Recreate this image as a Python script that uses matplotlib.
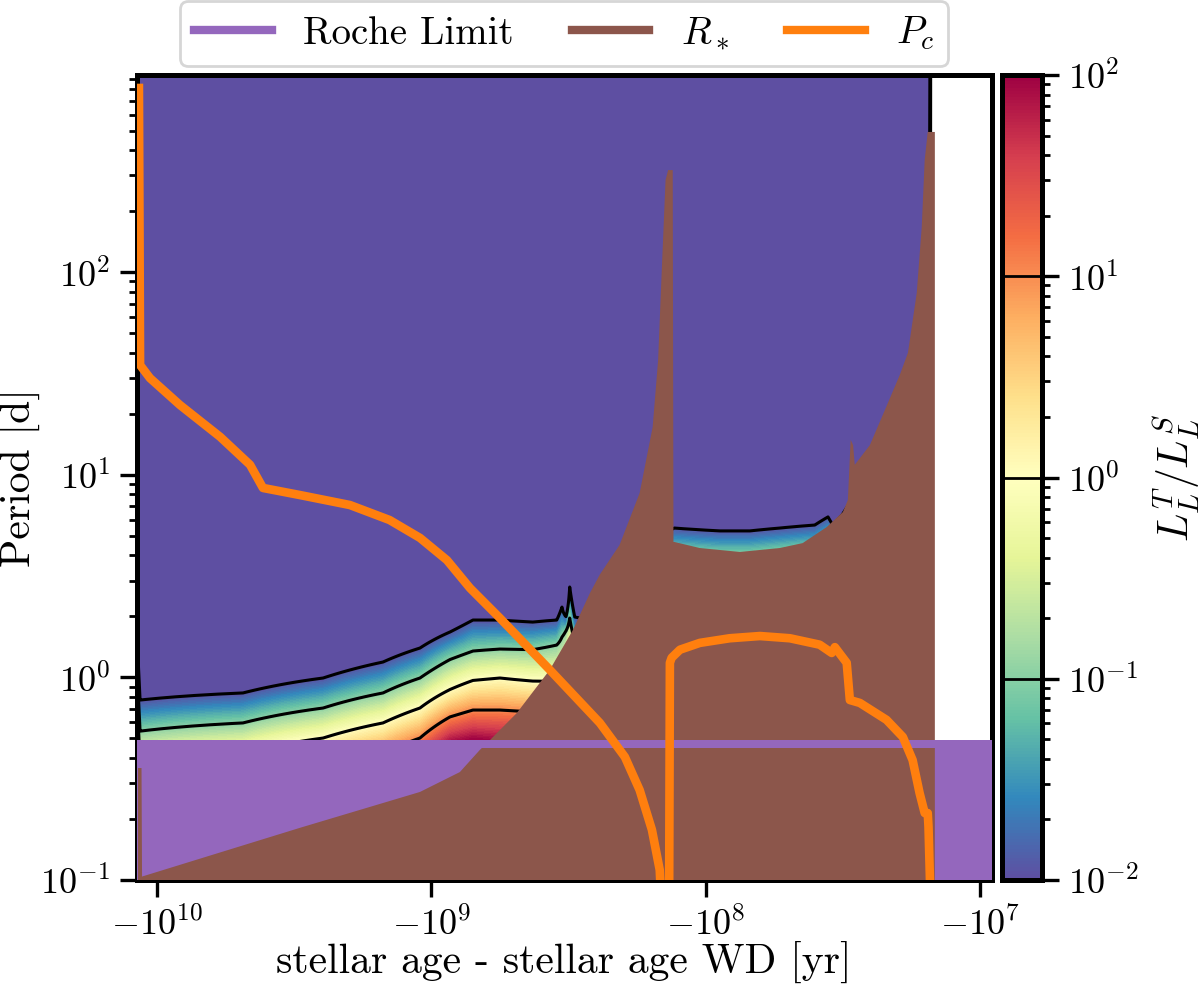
import numpy as np
import matplotlib
matplotlib.use('Agg')
import matplotlib.pyplot as plt
from matplotlib.colors import LogNorm, Normalize
from matplotlib.lines import Line2D
from matplotlib.ticker import NullLocator
import matplotlib.cm as cm

plt.rcParams.update({
    'font.family': 'serif',
    'font.serif': ['cmr10'],
    'mathtext.fontset': 'cm',
    'axes.formatter.use_mathtext': True,
    'axes.unicode_minus': False,
    'contour.negative_linestyle': 'solid',
})

# ---------------- data ----------------
# tidal-to-stellar luminosity ratio field: period (d) of the 0.01, 0.1, 1, 10 contours per age column
field_age = np.array([-1.178e10, -1.153e10, -4.86e9, -2.48e9, -1.50e9, -1.10e9, -8.55e8, -7.05e8,
                      -5.62e8, -4.27e8, -3.49e8, -3.34e8, -3.23e8, -3.13e8, -3.00e8, -2.87e8,
                      -2.43e8, -1.89e8, -1.47e8, -1.30e8, -8.87e7, -6.90e7, -5.37e7, -4.00e7,
                      -3.58e7, -3.44e7, -3.18e7, -2.52e7, -1.96e7, -1.54e7, -1.51e7])
field_p001 = np.array([1.413, 0.773, 0.838, 0.993, 1.191, 1.396, 1.675, 1.919, 1.919, 1.875, 1.919,
                       2.223, 1.995, 2.793, 1.986, 1.963, 2.630, 3.802, 5.012, 5.458, 5.284, 5.284,
                       5.458, 5.649, 6.194, 5.649, 6.339, 10.0, 19.95, 100.0, 3162.0])
field_p01 = np.array([1.000, 0.543, 0.596, 0.706, 0.838, 0.993, 1.225, 1.349, 1.380, 1.371, 1.445,
                      1.581, 1.698, 1.963, 1.479, 1.479, 1.905, 2.884, 3.802, 4.140, 4.009, 4.009,
                      4.140, 4.285, 4.699, 4.285, 4.808, 7.586, 15.14, 75.86, 2399.0])
field_p1 = np.array([0.708, 0.380, 0.422, 0.502, 0.596, 0.706, 0.871, 0.966, 0.993, 0.959, 0.955,
                     1.000, 1.122, 1.413, 1.047, 1.047, 1.349, 2.138, 2.884, 3.141, 3.041, 3.041,
                     3.141, 3.251, 3.565, 3.251, 3.648, 5.754, 11.48, 57.54, 1820.0])
field_p10 = np.array([0.501, 0.269, 0.299, 0.355, 0.422, 0.502, 0.638, 0.690, 0.690, 0.676, 0.676,
                      0.708, 0.794, 1.000, 0.741, 0.741, 0.955, 1.585, 2.188, 2.382, 2.307, 2.307,
                      2.382, 2.466, 2.704, 2.466, 2.767, 4.365, 8.710, 43.65, 1380.0])

# stellar radius expressed as orbital period
rstar_age = np.array([-1.173e10, -1.139e10, -1.134e10, -3.01e9, -1.10e9, -7.87e8, -6.65e8, -6.11e8,
                      -4.88e8, -3.70e8, -3.05e8, -2.64e8, -2.43e8, -2.06e8, -1.74e8, -1.56e8,
                      -1.49e8, -1.44e8, -1.40e8, -1.37e8, -1.318e8, -1.31e8, -1.30e8, -1.05e8,
                      -7.50e7, -5.37e7, -4.43e7, -3.62e7, -3.16e7, -3.03e7, -2.96e7, -2.90e7,
                      -2.86e7, -2.52e7, -2.22e7, -1.96e7, -1.83e7, -1.70e7, -1.63e7, -1.59e7,
                      -1.55e7, -1.46e7])
rstar_P = np.array([0.357, 0.357, 0.104, 0.181, 0.272, 0.341, 0.439, 0.491,
                    0.667, 1.09, 1.71, 2.61, 3.22, 4.50, 8.13, 17.2,
                    36.9, 115.0, 285.0, 319.0, 319.0, 4.66, 4.66, 4.35,
                    4.16, 4.35, 4.60, 5.52, 6.55, 7.51, 14.9, 14.0,
                    11.2, 14.0, 20.9, 31.1, 40.0, 78.9, 167.0, 358.0,
                    492.0, 492.0])

# critical period P_c
pc_age = np.array([-1.164e10, -1.153e10, -1.061e10, -8.25e9, -5.89e9, -4.58e9, -4.11e9, -3.01e9,
                   -1.98e9, -1.42e9, -1.10e9, -8.77e8, -7.23e8, -5.62e8, -3.70e8, -2.43e8,
                   -1.97e8, -1.74e8, -1.57e8, -1.47e8, -1.43e8, -1.36e8, -1.35e8, -1.33e8,
                   -1.24e8, -1.05e8, -8.17e7, -6.34e7, -4.93e7, -3.84e7, -3.47e7, -3.38e7,
                   -3.06e7, -2.98e7, -2.74e7, -2.19e7, -1.91e7, -1.76e7, -1.66e7, -1.59e7,
                   -1.55e7, -1.54e7, -1.50e7])
pc_P = np.array([811.0, 34.8, 30.0, 22.1, 15.4, 11.2, 8.61, 7.94,
                 7.09, 5.98, 4.88, 3.79, 2.76, 1.96, 1.09, 0.596,
                 0.405, 0.278, 0.177, 0.112, 0.05, 0.05, 1.18, 1.25,
                 1.37, 1.48, 1.56, 1.60, 1.56, 1.45, 1.32, 1.41,
                 1.18, 0.773, 0.748, 0.617, 0.508, 0.391, 0.269, 0.214,
                 0.214, 0.183, 0.05])

roche_limit = 0.491
roche_band_low = 0.450

cbar_ticks = [1e-2, 1e-1, 1e0, 1e1, 1e2]
line_levels = [0.01, 0.1, 1.0, 10.0]

purple, brown, orange = '#9467bd', '#8c564b', '#ff7f0e'

# ---------------- build field (log10 of ratio) ----------------
logP = np.linspace(-1.3, 3.3, 700)
Z = np.zeros((logP.size, field_age.size))
for j in range(field_age.size):
    lv = np.log10([field_p10[j], field_p1[j], field_p01[j], field_p001[j]])
    vals = np.array([1., 0., -1., -2.])
    z = np.interp(logP, lv, vals)
    lo = logP < lv[0]
    z[lo] = 1 + (lv[0] - logP[lo]) / (lv[1] - lv[0])
    hi = logP > lv[-1]
    z[hi] = -2 - (logP[hi] - lv[-1]) / (lv[-1] - lv[-2])
    Z[:, j] = z
Z = np.clip(Z, -20, 1.999)
P_grid = 10 ** logP

# ---------------- figure ----------------
fig = plt.figure(figsize=(6, 4.92), dpi=200)
W, H = 1200, 984
ax = fig.add_axes([136.7 / W, 1 - 880 / H, (991.7 - 136.7) / W, (880 - 75) / H])
cax = fig.add_axes([1002 / W, 1 - 880 / H, 40 / W, (880 - 75) / H])

ax.set_xscale('symlog', linthresh=1e3)
ax.set_yscale('log')

lin_norm = Normalize(-2, 2)
levels_fill = np.concatenate([[-30], np.linspace(-2, 2, 81)])
ax.contourf(field_age, P_grid, Z, levels=levels_fill, cmap='Spectral_r', norm=lin_norm, zorder=1)
ax.contour(field_age, P_grid, Z, levels=np.log10(line_levels), colors='k', linewidths=1.1,
           linestyles='solid', zorder=2)

ax.axhspan(1e-3, roche_limit, color=purple, lw=0, zorder=3)
ax.fill_between(rstar_age, 1e-3, rstar_P, color=brown, lw=0, zorder=4)
ax.axhspan(roche_band_low, roche_limit, color=purple, lw=0, zorder=5)
ax.plot(pc_age, pc_P, color=orange, lw=3.1, zorder=6, solid_joinstyle='round')

ax.set_xlim(-1.186e10, -9.06e6)
ax.set_ylim(0.1, 940)
ax.set_xticks([-1e10, -1e9, -1e8, -1e7])
ax.xaxis.set_minor_locator(NullLocator())

for s in ax.spines.values():
    s.set_linewidth(1.8)
ax.tick_params(which='major', length=6, width=1.2, labelsize=13)
ax.tick_params(which='minor', length=3, width=1.0)
ax.set_xlabel('stellar age - stellar age WD [yr]', fontsize=15, labelpad=-0.5)
ax.set_ylabel('Period [d]', fontsize=15, labelpad=0)

norm = LogNorm(1e-2, 1e2)
sm = cm.ScalarMappable(norm=norm, cmap='Spectral_r')
cb = fig.colorbar(sm, cax=cax)
cb.set_ticks(cbar_ticks)
cb.add_lines(line_levels[1:], ['k'] * 3, [1.0] * 3)
cb.outline.set_linewidth(1.8)
cax.tick_params(which='major', length=6, width=1.2, labelsize=13)
cax.tick_params(which='minor', length=3, width=1.0)
cb.set_label(r'$L_L^T/L_L^S$', fontsize=15)

handles = [Line2D([], [], color=purple, lw=3), Line2D([], [], color=brown, lw=3),
           Line2D([], [], color=orange, lw=3)]
fig.legend(handles, ['Roche Limit', r'$R_*$', r'$P_c$'], loc='upper center',
           bbox_to_anchor=((136.7 + 991.7) / 2 / W, 0.999), ncol=3, fontsize=14,
           borderaxespad=0.0, columnspacing=1.5, borderpad=0.35)

fig.savefig('out.png', dpi=200)
